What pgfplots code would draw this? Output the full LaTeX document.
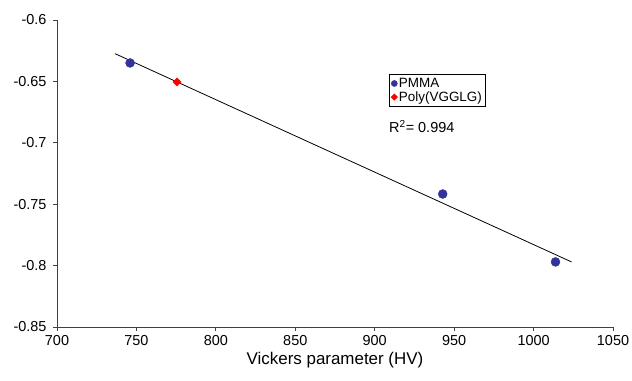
\documentclass[border=0pt]{standalone}
\usepackage{fontspec}
\setmainfont{Liberation Sans}
\usepackage{pgfplots}
\pgfplotsset{compat=1.18}
\definecolor{pmma}{RGB}{51,51,153}
\begin{document}
\begin{tikzpicture}
\begin{axis}[
  at={(0,0)}, anchor=south west,
  scale only axis, width=556bp, height=307bp,
  xmin=700, xmax=1050, ymin=-0.85, ymax=-0.6,
  xtick={700,750,...,1050},
  ytick={-0.85,-0.8,...,-0.6},
  axis x line*=bottom, axis y line*=left,
  axis line style={black!75, line width=0.8pt},
  tick style={black!75, line width=0.8pt},
  tick align=outside,
  major tick length=4bp,
  /pgf/number format/assume math mode=true,
  /pgf/number format/fixed,
  /pgf/number format/precision=2,
  /pgf/number format/1000 sep={},
  tick label style={font=\fontsize{14.5}{16}\selectfont},
  xticklabel style={yshift=-1bp},
  yticklabel style={xshift=-3bp},
  xlabel={Vickers parameter (HV)},
  xlabel style={font=\fontsize{17}{19}\selectfont, yshift=0bp},
  legend style={at={(0.597,0.824)}, anchor=north west, draw=black, line width=0.6pt,
    font=\fontsize{13.5}{15}\selectfont, inner xsep=2pt, inner ysep=3pt, row sep=1pt,
    nodes={inner xsep=1.5pt, inner ysep=0.8pt}},
  legend cell align=left,
  legend image code/.code={\draw[#1] plot coordinates {(1bp,0bp)};},
]
\addplot[only marks, mark=*, mark size=4.5bp, color=pmma, mark options={draw=pmma, fill=pmma},
  legend image post style={mark size=3bp}]
  coordinates {(746,-0.635) (942.8,-0.7417) (1013.8,-0.797)};
\addlegendentry{PMMA}
\addplot[only marks, mark=square*, mark size=2.9bp, color=red, mark options={draw=red, fill=red, rotate=45},
  legend image post style={mark size=2.2bp}]
  coordinates {(775.5,-0.6505)};
\addlegendentry{Poly(VGGLG)\hspace{6bp}}
\addplot[black, line width=0.8pt, forget plot] coordinates {(736.5,-0.6274) (1023.9,-0.797)};
\node[anchor=base west, font=\fontsize{14.5}{16}\selectfont, inner sep=0pt] at (axis cs:909,-0.692) {R\textsuperscript{2}= 0.994};
\node[align=center, font=\fontsize{14}{13}\selectfont, inner sep=0pt] at (rel axis cs:-0.052,0.49) {AFM\\slope};
\end{axis}
\pgfresetboundingbox
\path (-57bp,-54bp) rectangle (575bp,327bp);
\end{tikzpicture}
\end{document}
